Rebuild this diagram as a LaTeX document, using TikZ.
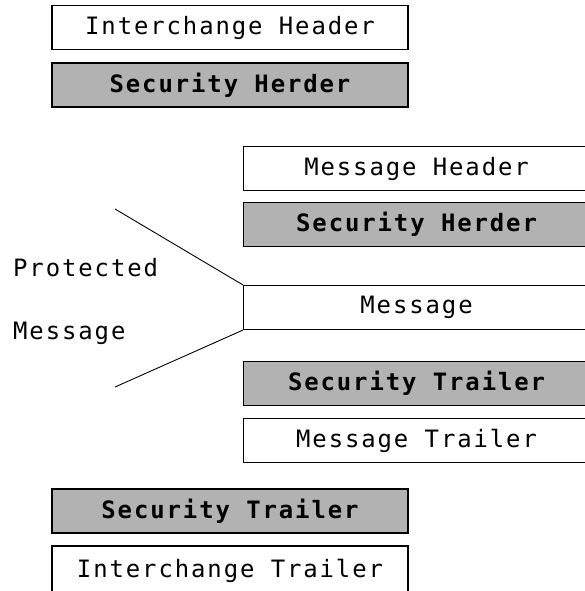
\documentclass[tikz,border=0pt]{standalone}
\usepackage{fontspec}
\newfontfamily\boxfont[LetterSpace=8]{DejaVu Sans Mono}
\usetikzlibrary{positioning}

\begin{document}
\begin{tikzpicture}[x=1bp,y=-1bp,
  part/.style={draw,line width=1.1pt,minimum height=44bp,inner sep=0pt,font=\boxfont\fontsize{24}{28}\selectfont},
  outer/.style={part,minimum width=356bp},
  inner/.style={part,minimum width=346bp,anchor=west},
  sec/.style={fill=black!30,font=\boxfont\bfseries\fontsize{24}{28}\selectfont},
  tag/.style={anchor=west,inner sep=0pt,font=\boxfont\fontsize{24}{28}\selectfont}]

\clip (0,0) rectangle (585,591);

  % interchange level
  \node[outer] (ih) at (230,27.5) {Interchange Header};
  \node[outer,sec] (ish) at (230,85) {Security Herder};

  % message level
  \node[inner] (mh) at (243,168.5) {Message Header};
  \node[inner,sec] (msh) at (243,224.5) {Security Herder};
  \node[inner] (msg) at (243,307.5) {Message};
  \node[inner,sec] (mst) at (243,383.5) {Security Trailer};
  \node[inner] (mt) at (243,440.5) {Message Trailer};

  \node[outer,sec] (ist) at (230,511) {Security Trailer};
  \node[outer,minimum height=50bp] (it) at (230,571) {Interchange Trailer};

  \node[tag] (prot) at (13,268) {Protected};
  \node[tag] (pmsg) at (13,333) {Message};

  \coordinate (up) at (115,209);
  \coordinate (lo) at (115,387);
  \draw[line width=0.9pt] (up) -- (msg.north west);
  \draw[line width=0.9pt] (lo) -- (msg.south west);
\end{tikzpicture}
\end{document}
